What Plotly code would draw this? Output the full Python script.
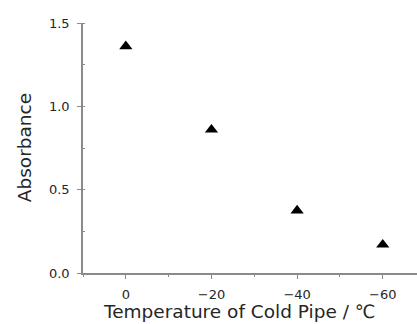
import plotly.graph_objects as go

temperature = [0, -20, -40, -60]
absorbance = [1.36, 0.86, 0.375, 0.17]
x_ticks = [0, -20, -40, -60]
y_ticks = [0.0, 0.5, 1.0, 1.5]
y_tick_text = ["0.0", "0.5", "1.0", "1.5"]

axis_color = "#8a8a8a"
text_color = "#262626"
font_family = "DejaVu Sans"

fig = go.Figure()
fig.add_trace(go.Scatter(
    x=temperature, y=absorbance, mode="markers",
    marker=dict(symbol="triangle-up", size=11.5, color="black"),
    showlegend=False,
))

fig.update_layout(
    width=417, height=324,
    margin=dict(l=83, r=0, t=23, b=51),
    paper_bgcolor="white", plot_bgcolor="white",
    font=dict(family=font_family, color=text_color),
    xaxis=dict(
        range=[10, -68], tickmode="array", tickvals=x_ticks,
        ticks="outside", ticklen=4, tickwidth=1.2, tickcolor=axis_color,
        showline=True, linecolor=axis_color, linewidth=1.5,
        showgrid=False, zeroline=False,
        tickfont=dict(size=13, color=text_color),
        ticklabelstandoff=5,
        minor=dict(ticks="outside", ticklen=2, tickwidth=1, tickcolor=axis_color,
                   dtick=10, tick0=0, showgrid=False),
    ),
    yaxis=dict(
        range=[0, 1.5], tickmode="array", tickvals=y_ticks, ticktext=y_tick_text,
        ticks="outside", ticklen=4, tickwidth=1.2, tickcolor=axis_color,
        showline=True, linecolor=axis_color, linewidth=1.5,
        showgrid=False, zeroline=False,
        tickfont=dict(size=13, color=text_color),
        ticklabelstandoff=5,
        minor=dict(ticks="inside", ticklen=2, tickwidth=1, tickcolor=axis_color,
                   dtick=0.25, tick0=0, showgrid=False),
    ),
    annotations=[
        dict(text="Temperature of Cold Pipe / ℃", xref="paper", yref="paper",
             x=0.47, y=-0.155, xanchor="center", yanchor="middle", showarrow=False,
             font=dict(size=18.5, family=font_family, color=text_color)),
        dict(text="Absorbance", xref="paper", yref="paper",
             x=-0.176, y=0.5, xanchor="center", yanchor="middle", showarrow=False,
             textangle=-90,
             font=dict(size=18.5, family=font_family, color=text_color)),
    ],
)

fig.write_html("out.html")
